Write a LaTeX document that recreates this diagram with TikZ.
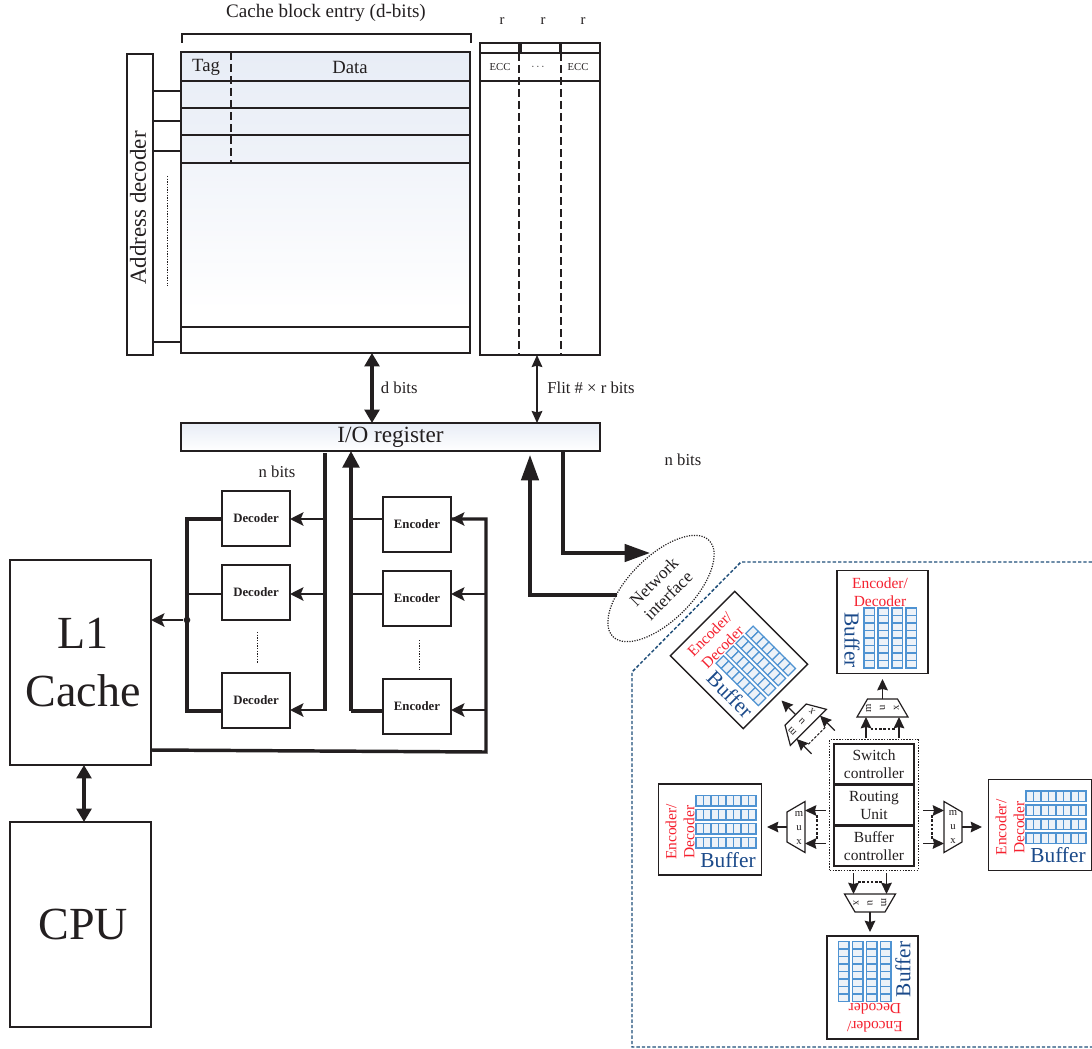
\documentclass[tikz,border=0pt]{standalone}
\usepackage{fontspec}
\setmainfont{Liberation Serif}
\usepackage{xcolor}
\usetikzlibrary{arrows.meta,positioning,fit,shapes.geometric}
\definecolor{ink}{HTML}{231F20}
\definecolor{linkblue}{HTML}{1F4E79}
\definecolor{bufblue}{HTML}{1B4A8A}
\definecolor{cellblue}{HTML}{4F93D2}
\definecolor{cellfill}{HTML}{EDF2F8}
\definecolor{bandblue}{HTML}{E8EDF6}
\definecolor{codecred}{HTML}{F5212F}
\newcommand{\setsz}[2]{\fontsize{#1}{#2}\selectfont}
\newcommand{\muxoutline}{
  \draw[draw=ink,line width=0.9pt,fill=white] (-9,-25.5) -- (9,-15) -- (9,15) -- (-9,25.5) -- cycle;
  \coordinate (-in1) at (-9,-16.5);
  \coordinate (-in2) at (-9,16.5);
  \coordinate (-src1) at (-30,-16.5);
  \coordinate (-src2) at (-30,16.5);
  \coordinate (-lk1) at (-21,-12);
  \coordinate (-lk2) at (-21,12);
  \coordinate (-out) at (9,0);
  \coordinate (-dst) at (29,0);
}

\tikzset{
  bufferblock/.pic={
    \node[draw=ink,line width=1pt,fill=white,minimum width=68.25pt,minimum height=77.25pt,transform shape] (-box) at (0,0) {};
    \node[text=codecred,align=center,font=\setsz{11.6}{13.5},transform shape] (-codec) at (-2.5,-30) {Encoder/\\Decoder};
    \node[text=bufblue,font=\setsz{16}{18},rotate=-90,transform shape] (-name) at (-30.5,18) {Buffer};
    \foreach \c in {0,...,3}
      \foreach \r in {0,...,7}
        \draw[cellblue,line width=0.9pt,fill=cellfill]
          (-18.5+14*\c,-14+7.5*\r) rectangle ++(10.5,7.5);
  },
  muxbody/.pic={\muxoutline},
  muxunit/.pic={
    \muxoutline
    \node[muxtxt,transform shape] (-m) at (0,-14) {m};
    \node[muxtxt,transform shape] (-u) at (0,0) {u};
    \node[muxtxt,transform shape] (-x) at (0,14) {x};
  }
}

\begin{document}
\begin{tikzpicture}[
  x=0.75pt,y=-0.75pt,
  line width=0.8pt,draw=ink,text=ink,
  label14/.style={font=\setsz{14}{16}},
  label11/.style={font=\setsz{11}{13}},
  plainbox/.style={draw=ink,inner sep=0pt,outer sep=0pt},
  codec/.style={plainbox,minimum width=51pt,minimum height=41.25pt,font=\bfseries\setsz{9.6}{11}},
  proc/.style={plainbox,minimum width=105.75pt,minimum height=153.75pt,align=center},
  rtbox/.style={plainbox,line width=1.1pt,minimum width=60pt,minimum height=30pt,align=center,font=\setsz{11.6}{13.5}},
  muxtxt/.style={font=\setsz{8}{9},inner sep=0pt},
  longdash/.style={line width=0.9pt,dash pattern=on 6pt off 3pt},
  thindots/.style={line width=0.6pt,dash pattern=on 1pt off 1pt},
  bus/.style={line width=2.6pt,line join=miter},
  branch/.style={line width=2pt},
  arr/.style={line width=2pt,-{Stealth[length=10pt,width=10pt,inset=2pt]}},
  busarr/.style={line width=2.6pt,-{Triangle[length=19pt,width=13pt]}},
  duplex/.style={line width=2.6pt,{Triangle[length=10pt,width=11pt]}-{Triangle[length=10pt,width=11pt]}},
  muxarr/.style={line width=0.9pt,-{Stealth[length=8.5pt,width=8pt,inset=1pt]}},
  muxlink/.style={line width=0.8pt,dash pattern=on 2pt off 1.2pt}
]
\useasboundingbox (0,0) rectangle (1092,1049);

% ---- cache array
\shade[top color=bandblue,bottom color=bandblue!70!white] (181,52) rectangle (470,163);
\shade[top color=bandblue!60!white,bottom color=white] (181,163) rectangle (470,310);
\node[plainbox,minimum width=216.75pt,minimum height=225.75pt,anchor=north west] (cacheBox) at (181,52) {};
\node[plainbox,minimum width=19.5pt,minimum height=225.75pt,anchor=north west] (addrDec) at (127,54) {};
\node[rotate=90,font=\setsz{17.2}{19}] (addrTxt) at (138,208) {Address decoder};
\foreach \y in {81,108,135,163,327}
  \draw (cacheBox.west |- 0,\y) -- (cacheBox.east |- 0,\y);
\draw[longdash] (231,52) -- (231,163);
\foreach \y in {91,121,151,342}
  \draw (addrDec.east |- 0,\y) -- (cacheBox.west |- 0,\y);
\draw[thindots] (167,176) -- (167,286);
\node[label14] (tagTxt) at (206,67) {Tag};
\node[label14] (dataTxt) at (350,67) {Data};
\node[font=\setsz{14.3}{16}] (blockTxt) at (326,13) {Cache block entry (d-bits)};
\draw (182,43) |- (471,34) -- (471,43);

% ---- ECC columns
\node[plainbox,minimum width=90pt,minimum height=226.5pt,anchor=north west] (eccBox) at (480,53) {};
\draw (eccBox.west |- 0,81) -- (eccBox.east |- 0,81);
\foreach \x in {519,561}
  \draw[longdash] (\x,53) -- (\x,355);
\foreach \x/\w/\lx in {480/519/502,521/560/543,561/600/583}{
  \draw (\x,52) |- (\w,43) -- (\w,52);
  \node[label11] at (\lx,21) {r};
}
\node[font=\setsz{8}{9}] (ecc1) at (500,67) {ECC};
\node[font=\setsz{8}{9}] (eccDots) at (538,67) {$\cdots$};
\node[font=\setsz{8}{9}] (ecc2) at (578,67) {ECC};

% ---- I/O register
\node[plainbox,minimum width=314.25pt,minimum height=21pt,anchor=north west,top color=bandblue,bottom color=white,font=\setsz{17.4}{19}] (ioReg) at (181,423) {I/O register};
\draw[duplex] (cacheBox.south -| 372,0) -- (ioReg.north -| 372,0);
\draw[line width=1.2pt,{Stealth[length=9pt,width=8pt,inset=1pt]}-{Stealth[length=9pt,width=8pt,inset=1pt]}] (eccBox.south -| 537,0) -- (ioReg.north -| 537,0);
\node[font=\setsz{12.5}{14},anchor=west] (dBits) at (376,388) {d bits};
\node[font=\setsz{12.5}{14}] (flitBits) at (591,388) {Flit \# × r bits};
\node[font=\setsz{12.5}{14}] (nBitsA) at (277,472) {n bits};
\node[font=\setsz{12.5}{14}] (nBitsB) at (683,460) {n bits};

% ---- decoders
\node[codec] (dec1) at (256,518.5) {Decoder};
\node[codec,below=14.25pt of dec1] (dec2) {Decoder};
\node[codec] (dec3) at (256,700.5) {Decoder};
\draw[thindots] (257,632) -- (257,664);
\coordinate (decBus) at (325,453);
\coordinate (collBus) at (187,519);
\draw[bus] (decBus) -- (325,711);
\draw[bus] (dec1.west |- 0,519) -- (collBus) -- (187,711) -- (dec3.west |- 0,711);
\foreach \n/\y in {1/519,2/594,3/710}
  \draw[arr] (decBus |- 0,\y) -- (dec\n.east |- 0,\y);
\draw[branch] (collBus |- 0,594) -- (dec2.west |- 0,594);

% ---- encoders
\node[codec] (enc1) at (417,524.5) {Encoder};
\node[codec,below=14.25pt of enc1] (enc2) {Encoder};
\node[codec] (enc3) at (417,706.5) {Encoder};
\draw[thindots] (419,640) -- (419,670);
\coordinate (encBus) at (351,711);
\coordinate (inBus) at (486,519);
\draw[bus] (enc3.west |- encBus) -- (encBus);
\draw[line width=2.6pt,-{Triangle[length=12.5pt,width=12.5pt]}] (encBus) -- (encBus |- ioReg.south);
\foreach \n/\y in {1/519,2/594}
  \draw[branch] (encBus |- 0,\y) -- (enc\n.west |- 0,\y);
\foreach \n/\y in {1/519,2/594,3/710}
  \draw[arr] (inBus |- 0,\y) -- (enc\n.east |- 0,\y);

% ---- L1 and CPU
\node[proc,font=\setsz{34.5}{43.5}] (l1Cache) at (80.5,662.5) {\hspace*{4pt}L1\\\hspace*{4pt}Cache};
\node[proc,font=\setsz{34.5}{40}] (cpuBox) at (80.5,924.5) {\hspace*{4pt}CPU};
\draw[duplex] (84,765) -- (84,822);
\draw[bus] (151,750) -- (486,752) -- (inBus) -- (enc1.east |- inBus);
\node[circle,fill=ink,inner sep=0pt,minimum size=5pt] (busDot) at (187,620) {};
\draw[arr] (busDot) -- (l1Cache.east |- busDot);

% ---- network interface
\node[draw=ink,densely dotted,line width=0.9pt,ellipse,rotate=45,minimum width=102pt,minimum height=48pt,inner sep=0pt,align=center,font=\setsz{13}{15}] (netIf) at (661,588.5) {Network\\interface};
\draw[busarr] (563,451) |- (650,553);
\draw[busarr] (617,595) -| (530,455);

% ---- router region
\draw[linkblue,line width=1.1pt,dash pattern=on 2.5pt off 1.5pt] (1092,562) -- (741,562) -- (632,672) -- (632,1047) -- (1092,1047);
\node[rtbox] (swCtrl) at (874,764) {Switch\\controller};
\node[rtbox,below=0.75pt of swCtrl] (rtUnit) {Routing\\Unit};
\node[rtbox,below=0.75pt of rtUnit] (bufCtrl) {Buffer\\controller};
\node[draw=ink,densely dotted,line width=1.1pt,inner sep=3.2pt,fit=(swCtrl)(bufCtrl)] (router) {};

% ---- buffers around router
\pic (bufT) at (882.5,622) {bufferblock};
\pic[rotate=45] (bufD) at (739,660) {bufferblock};
\pic[rotate=90] (bufL) at (710,829.5) {bufferblock};
\pic[rotate=90] (bufR) at (1040,825) {bufferblock};
\pic[rotate=180] (bufB) at (872.5,987.5) {bufferblock};

% ---- muxes
\pic[rotate=90] (muxT) at (882.5,708) {muxunit};
\pic[rotate=135] (muxD) at (802,721) {muxunit};
\pic (muxR) at (953,827) {muxunit};
\pic[rotate=-90] (muxB) at (870,903) {muxunit};
\pic[rotate=180] (muxL) at (796,827) {muxbody};
\node[muxtxt] (muxLm) at (799,814) {m};
\node[muxtxt] (muxLu) at (799,828) {u};
\node[muxtxt] (muxLx) at (799,842) {x};
\foreach \m in {muxT,muxD,muxR,muxB,muxL}{
  \draw[muxarr] (\m-src1) -- (\m-in1);
  \draw[muxarr] (\m-src2) -- (\m-in2);
  \draw[muxlink] (\m-lk1) -- (\m-lk2);
  \draw[muxarr] (\m-out) -- (\m-dst);
}
\end{tikzpicture}
\end{document}
